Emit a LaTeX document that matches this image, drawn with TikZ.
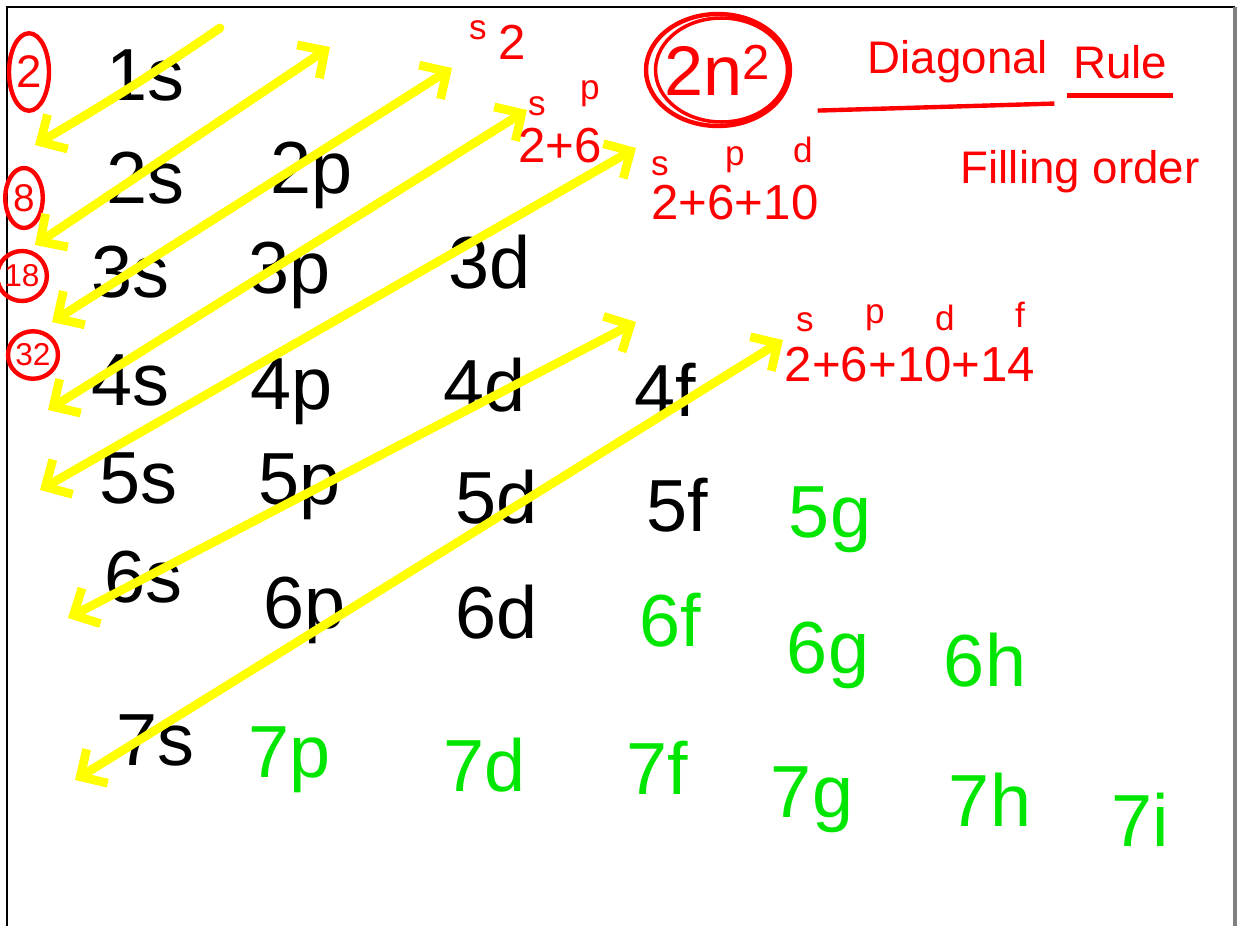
\documentclass[tikz,border=0pt]{standalone}
\usepackage{fontspec}
\setmainfont{Liberation Sans}
\usetikzlibrary{arrows.meta,shapes.geometric}
\definecolor{penred}{RGB}{255,0,0}
\definecolor{pengreen}{RGB}{0,230,0}
\definecolor{penyellow}{RGB}{255,255,0}

\begin{document}
\begin{tikzpicture}[x=0.02cm,y=-0.02cm,
    orb/.style={font=\fontsize{42}{50}\selectfont},
    orbnew/.style={orb,text=pengreen},
    sumtxt/.style={text=penred,inner sep=0pt,font=\fontsize{28}{34}\selectfont},
    sublbl/.style={text=penred,inner sep=0pt,font=\fontsize{20}{24}\selectfont},
    countmark/.style={ellipse,draw=penred,line width=2.5pt,text=penred,inner sep=0pt,font=\fontsize{18}{22}\selectfont},
    fillpath/.style={penyellow,line width=5pt,line cap=round,line join=round},
    >={Straight Barb[length=4mm,width=8mm]}]

    % Page size and frame
    \useasboundingbox (0,0) rectangle (1239,926);
    \draw[line width=1.5pt] (7,926) -- (7,7) -- (1235,7);
    \draw[line width=2pt,gray] (1235,7) -- (1235,926);

    % Orbitals (black)
    \node[orb] (o1s) at (145,75) {1s};
    \node[orb] (o2s) at (145,178) {2s};
    \node[orb] (o2p) at (312,175) {2p};
    \node[orb] (o3s) at (130,272) {3s};
    \node[orb] (o3p) at (290,275) {3p};
    \node[orb] (o3d) at (490,262) {3d};
    \node[orb] (o4s) at (130,380) {4s};
    \node[orb] (o4p) at (292,392) {4p};
    \node[orb] (o4d) at (485,385) {4d};
    \node[orb] (o4f) at (665,390) {4f};
    \node[orb] (o5s) at (138,478) {5s};
    \node[orb] (o5p) at (300,487) {5p};
    \node[orb] (o5d) at (497,497) {5d};
    \node[orb] (o5f) at (677,505) {5f};
    \node[orb] (o6s) at (143,577) {6s};
    \node[orb] (o6p) at (305,610) {6p};
    \node[orb] (o6d) at (497,612) {6d};
    \node[orb] (o7s) at (155,740) {7s};

    % Orbitals that are never filled (green)
    \node[orbnew] (o5g) at (830,520) {5g};
    \node[orbnew] (o6f) at (670,620) {6f};
    \node[orbnew] (o6g) at (828,655) {6g};
    \node[orbnew] (o6h) at (985,660) {6h};
    \node[orbnew] (o7p) at (290,760) {7p};
    \node[orbnew] (o7d) at (485,765) {7d};
    \node[orbnew] (o7f) at (657,768) {7f};
    \node[orbnew] (o7g) at (812,800) {7g};
    \node[orbnew] (o7h) at (990,800) {7h};
    \node[orbnew] (o7i) at (1140,820) {7i};

    % Electrons per shell
    \node[countmark,minimum width=0.8cm,minimum height=1.55cm,font=\fontsize{26}{30}\selectfont] (c1) at (29,72) {2};
    \node[countmark,minimum width=0.75cm,minimum height=1.2cm,font=\fontsize{22}{26}\selectfont] (c2) at (24,198) {8};
    \node[countmark,minimum width=0.65cm,minimum height=1cm] (c3) at (22,276) {18};
    \node[countmark,minimum width=1cm,minimum height=0.95cm] (c4) at (33,355) {32};

    % Diagonal arrows
    \coordinate (d1a) at (220,28);  \coordinate (d1b) at (35,145);
    \coordinate (d2a) at (330,47);  \coordinate (d2b) at (35,245);
    \coordinate (d3a) at (452,68);  \coordinate (d3b) at (52,322);
    \coordinate (d4a) at (527,110); \coordinate (d4b) at (48,410);
    \coordinate (d5a) at (636,148); \coordinate (d5b) at (40,490);
    \coordinate (d6a) at (636,322); \coordinate (d6b) at (68,618);
    \coordinate (d7a) at (783,340); \coordinate (d7b) at (75,780);
    \draw[fillpath,->] (d1a) to[bend left=2] (d1b);
    \draw[fillpath,<->] (d2a) -- (d2b);
    \draw[fillpath,<->] (d3a) -- (d3b);
    \draw[fillpath,<->] (d4a) -- (d4b);
    \draw[fillpath,<->] (d5a) -- (d5b);
    \draw[fillpath,<->] (d6a) -- (d6b);
    \draw[fillpath,<->] (d7a) -- (d7b);

    % Sums along the diagonals
    \node[sublbl] (s1s) at (478,30) {s};
    \node[sumtxt] (s1) at (512,42) {2};

    \node[sublbl] (s2s) at (537,106) {s};
    \node[sublbl] (s2p) at (590,94) {p};
    \node[sumtxt] (s2) at (560,146) {2+6};

    \node[sublbl] (s3s) at (660,166) {s};
    \node[sublbl] (s3p) at (735,160) {p};
    \node[sublbl] (s3d) at (803,150) {d};
    \node[sumtxt] (s3) at (735,203) {2+6+10};

    \node[sublbl] (s4s) at (805,322) {s};
    \node[sublbl] (s4p) at (875,318) {p};
    \node[sublbl] (s4d) at (945,318) {d};
    \node[sublbl] (s4f) at (1020,315) {f};
    \node[sumtxt] (s4) at (910,365) {2+6+10+14};

    % 2n^2 in a circle
    \node[text=penred,font=\fontsize{40}{48}\selectfont] (rule) at (718,70) {2n\textsuperscript{2}};
    \draw[penred,line width=2.5pt] (rule.center) ellipse [x radius=72,y radius=56];
    \draw[penred,line width=2pt] ([xshift=2pt]rule.center) ellipse [x radius=66,y radius=52];

    % Title
    \node[text=penred,font=\fontsize{26}{30}\selectfont] (diag) at (958,62) {Diagonal};
    \node[text=penred,font=\fontsize{26}{30}\selectfont] (rulename) at (1120,62) {Rule};
    \draw[penred,line width=2.5pt] ([xshift=-25pt,yshift=-12pt]diag.south west) -- ([yshift=-8pt]diag.south east);
    \draw[penred,line width=2.5pt] ([yshift=-6pt]rulename.south west) -- ([yshift=-6pt]rulename.south east);
    \node[text=penred,font=\fontsize{26}{30}\selectfont] (order) at (1080,172) {Filling order};

\end{tikzpicture}
\end{document}
